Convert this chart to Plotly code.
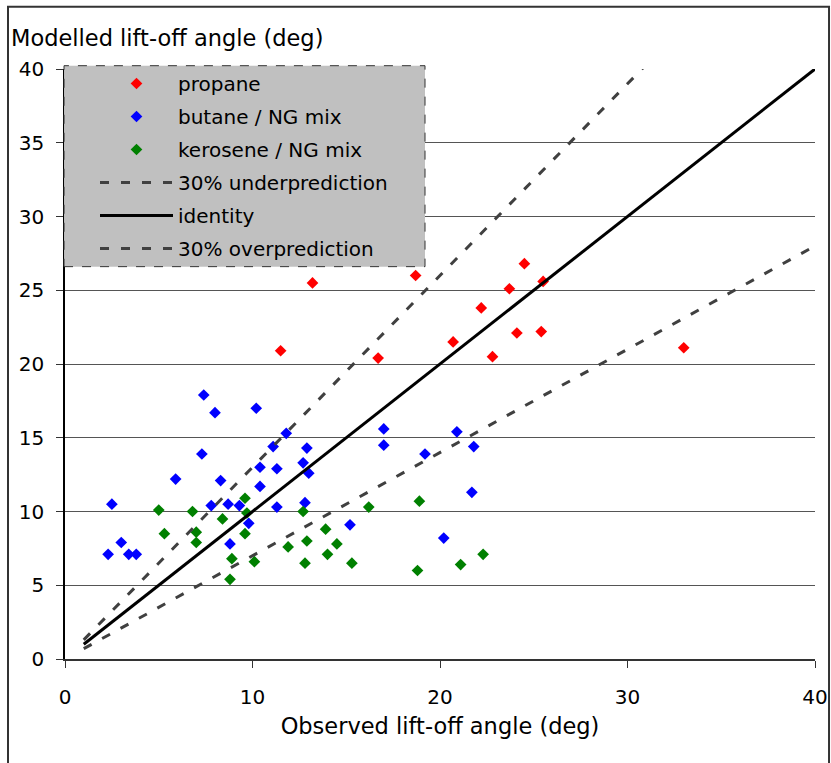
import plotly.graph_objects as go

# ---- data ----
propane_x = [11.5, 13.2, 16.7, 18.7, 20.7, 22.2, 22.8, 23.7, 24.1, 24.5, 25.4, 25.5, 33.0]
propane_y = [20.9, 25.5, 20.4, 26.0, 21.5, 23.8, 20.5, 25.1, 22.1, 26.8, 22.2, 25.6, 21.1]

butane_x = [2.3, 2.5, 3.0, 3.4, 3.8, 5.9, 7.3, 7.4, 7.8, 8.0, 8.3, 8.7, 8.8, 9.3, 9.8,
            10.2, 10.4, 10.4, 11.1, 11.3, 11.3, 11.8, 12.7, 12.8, 12.9, 13.0, 15.2,
            17.0, 17.0, 19.2, 20.2, 20.9, 21.7, 21.8]
butane_y = [7.1, 10.5, 7.9, 7.1, 7.1, 12.2, 13.9, 17.9, 10.4, 16.7, 12.1, 10.5, 7.8, 10.4, 9.2,
            17.0, 13.0, 11.7, 14.4, 12.9, 10.3, 15.3, 13.3, 10.6, 14.3, 12.6, 9.1,
            15.6, 14.5, 13.9, 8.2, 15.4, 11.3, 14.4]

kerosene_x = [5.0, 5.3, 6.8, 7.0, 7.0, 8.4, 8.8, 8.9, 9.6, 9.7, 9.6, 10.1, 11.9, 12.7, 12.8,
              12.9, 13.9, 14.0, 14.5, 15.3, 16.2, 18.8, 18.9, 21.1, 22.3]
kerosene_y = [10.1, 8.5, 10.0, 8.6, 7.9, 9.5, 5.4, 6.8, 10.9, 9.9, 8.5, 6.6, 7.6, 10.0, 6.5,
              8.0, 8.8, 7.1, 7.8, 6.5, 10.3, 6.0, 10.7, 6.4, 7.1]

under_x = [1, 31]
under_y = [1.3, 40.3]
identity_x = [1, 40]
identity_y = [1, 40]
over_x = [1, 40]
over_y = [0.7, 28.0]

x_ticks = [0, 10, 20, 30, 40]
y_ticks = [0, 5, 10, 15, 20, 25, 30, 35, 40]

FONT = "DejaVu Sans"

fig = go.Figure()

def scatter(name, xs, ys, color, rank):
    fig.add_trace(go.Scatter(
        x=xs, y=ys, mode="markers", name=name, legendgroup=name, legendrank=rank,
        marker=dict(symbol="diamond", size=9, color=color, line=dict(width=0)),
        cliponaxis=False))

def line(name, xs, ys, dash, width, color, rank):
    fig.add_trace(go.Scatter(
        x=xs, y=ys, mode="lines", name=name, legendgroup=name, legendrank=rank,
        line=dict(color=color, width=width, dash=dash)))

scatter("propane", propane_x, propane_y, "#FF0000", 1)
scatter("butane / NG mix", butane_x, butane_y, "#0000FF", 2)
scatter("kerosene / NG mix", kerosene_x, kerosene_y, "#008000", 3)
line("30% underprediction", under_x, under_y, "9px,12px", 3, "#404040", 4)
line("identity", identity_x, identity_y, "solid", 3, "#000000", 5)
line("30% overprediction", over_x, over_y, "9px,12px", 3, "#404040", 6)

fig.update_layout(
    width=831, height=763,
    margin=dict(l=65, r=16, t=69, b=104, autoexpand=False),
    paper_bgcolor="white", plot_bgcolor="white",
    font=dict(family=FONT, size=20, color="black"),
    showlegend=True,
    legend=dict(x=0.04, y=1.0085, xanchor="left", yanchor="top",
                bgcolor="rgba(0,0,0,0)", borderwidth=0,
                font=dict(family=FONT, size=20, color="black"),
                itemwidth=73, traceorder="grouped", tracegroupgap=4),
    xaxis=dict(range=[0, 40], tickvals=x_ticks, showgrid=False, zeroline=False, automargin=False,
               showline=True, linecolor="#333333", linewidth=1.5,
               ticks="outside", ticklen=7, tickcolor="#333333",
               tickfont=dict(size=20), ticklabelstandoff=12,
               title=dict(text="Observed lift-off angle (deg)", font=dict(size=22.5), standoff=10)),
    yaxis=dict(range=[0, 40], tickvals=y_ticks, showgrid=True, gridcolor="#555555", gridwidth=1,
               zeroline=False, showline=True, linecolor="#000000", linewidth=1.5, automargin=False,
               ticks="outside", ticklen=7, tickcolor="#333333",
               tickfont=dict(size=20), ticklabelstandoff=8),
    annotations=[dict(text="Modelled lift-off angle (deg)", xref="paper", yref="paper",
                      x=-0.0747, y=1.053, xanchor="left", yanchor="middle",
                      showarrow=False, font=dict(size=22.5, color="black"))],
    shapes=[
        dict(type="rect", xref="paper", yref="paper", x0=-0.0013, x1=0.48, y0=0.665, y1=1.0056,
             fillcolor="#C0C0C0", line=dict(color="#333333", width=1, dash="dash"), layer="above"),
        dict(type="rect", xref="paper", yref="paper", x0=-0.076, x1=1.0187, y0=-0.2, y1=1.1056,
             fillcolor="rgba(0,0,0,0)", line=dict(color="#333333", width=2), layer="above"),
    ],
)

fig.write_html("out.html", config={"displayModeBar": False},
               post_script="document.body.style.margin='0px';document.body.style.overflow='hidden';")
